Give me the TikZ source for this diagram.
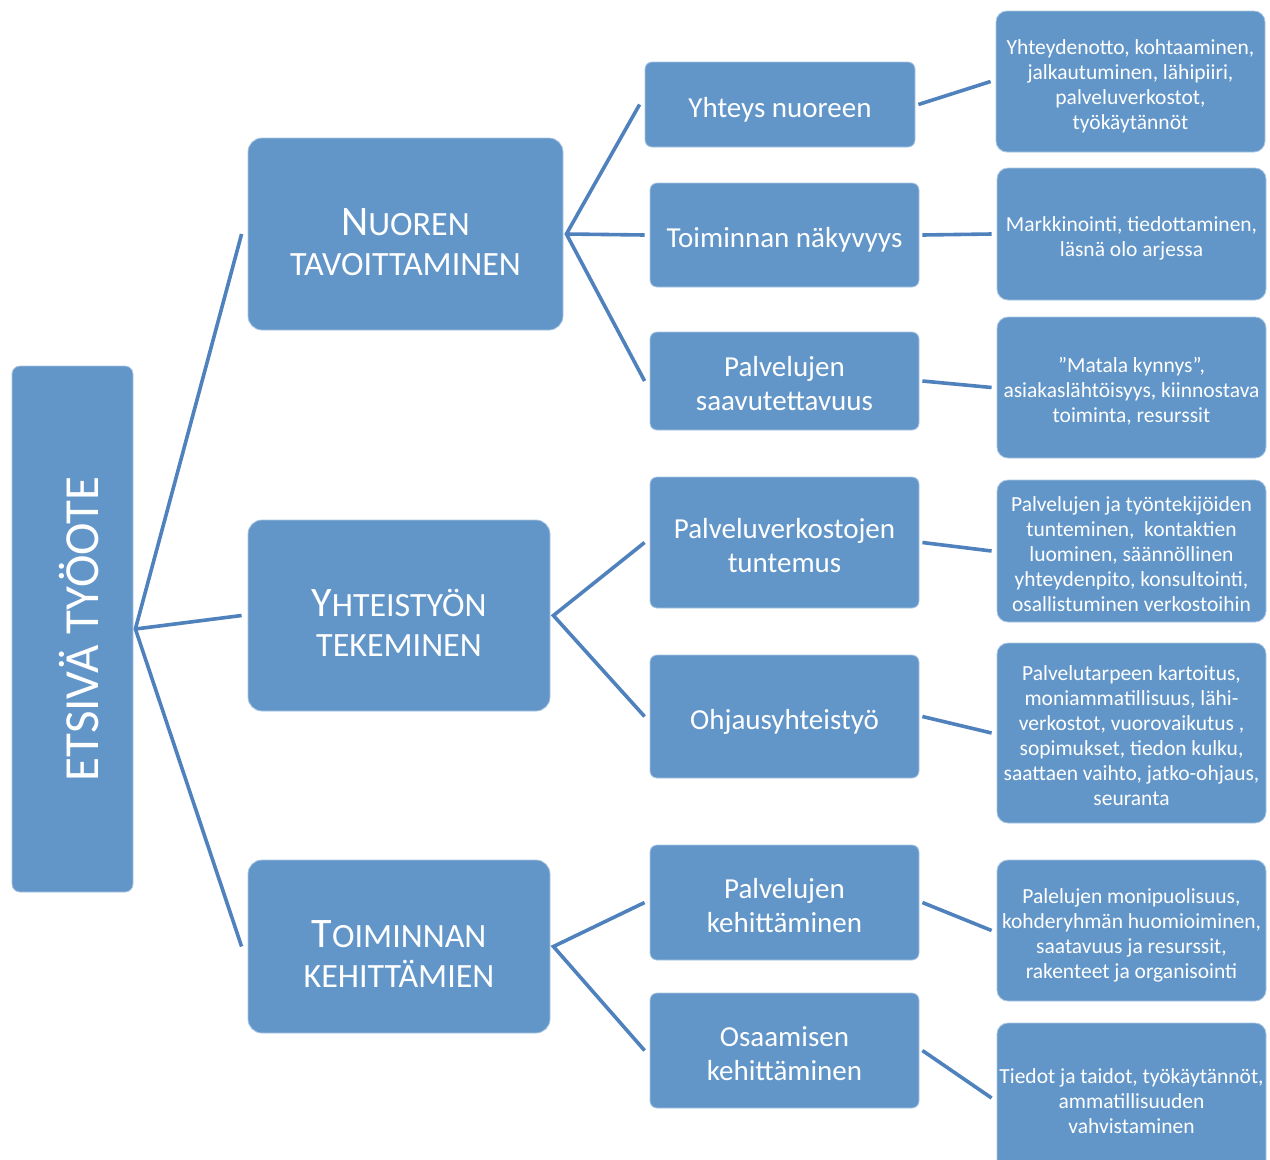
\documentclass[tikz,border=0pt]{standalone}
\usepackage{fontspec}
\usepackage{graphicx}
\setmainfont{Carlito}
\definecolor{boxblue}{RGB}{98,150,201}
\definecolor{lineblue}{RGB}{79,129,189}
\newcommand{\fsz}[2]{\fontsize{#1}{#2}\selectfont}
\newcommand{\scap}[2]{{\fsz{42}{40}#1}{\fsz{34}{40}#2}}
\newcommand{\ctext}[2]{\raisebox{-#1}[\height][\depth]{\begin{tabular}{@{}c@{}}#2\end{tabular}}}
\newcommand{\tone}[1]{\ctext{13pt}{#1}}
\newcommand{\ttwo}[1]{\ctext{6pt}{#1}}
\newcommand{\tthree}[1]{\ctext{5pt}{#1}}
\begin{document}
\begin{tikzpicture}[x=1pt,y=-1pt,
  box/.style={rectangle, fill=boxblue, draw=boxblue!55!white, line width=0.8pt,
    text=white, inner sep=0pt},
  rootbox/.style={box, rounded corners=8pt, minimum width=121pt, minimum height=526pt},
  lonebox/.style={box, rounded corners=14pt, font=\fsz{34}{40}},
  ltwobox/.style={box, rounded corners=7pt, minimum width=269pt, font=\fsz{29}{34}},
  lthreebox/.style={box, rounded corners=11pt, minimum width=269pt, font=\fsz{21.5}{25}},
  conn/.style={draw=lineblue, line width=3.6pt}
]
\useasboundingbox (0,0) rectangle (1270,1160);

% root
\node[rootbox] (root) at (72.5,629) {\rotatebox{90}{\raisebox{0pt}[51.5pt][0pt]{\fsz{49}{52}ETSIVÄ TYÖOTE}}};

% level 1
\node[lonebox, minimum width=315pt, minimum height=192pt] (nuo) at (405.5,234) {\tone{\scap{N}{UOREN}\\\scap{}{TAVOITTAMINEN}}};
\node[lonebox, minimum width=302pt, minimum height=191pt] (yht) at (399,615.5) {\tone{\scap{Y}{HTEISTYÖN}\\\scap{}{TEKEMINEN}}};
\node[lonebox, minimum width=302pt, minimum height=173pt] (toi) at (399,946.5) {\tone{\scap{T}{OIMINNAN}\\\scap{}{KEHITTÄMIEN}}};

% level 2
\node[ltwobox, minimum width=270pt, minimum height=85pt] (a1) at (780,104.5) {\ttwo{Yhteys nuoreen}};
\node[ltwobox, minimum height=104pt] (a2) at (784.5,235) {\ttwo{Toiminnan näkyvyys}};
\node[ltwobox, minimum height=98pt] (a3) at (784.5,381) {\ttwo{Palvelujen\\saavutettavuus}};
\node[ltwobox, minimum height=131pt] (b1) at (784.5,542.5) {\ttwo{Palveluverkostojen\\tuntemus}};
\node[ltwobox, minimum height=123pt] (b2) at (784.5,716.5) {\ttwo{Ohjausyhteistyö}};
\node[ltwobox, minimum height=115pt] (c1) at (784.5,902.5) {\ttwo{Palvelujen\\kehittäminen}};
\node[ltwobox, minimum height=115pt] (c2) at (784.5,1050.5) {\ttwo{Osaamisen\\kehittäminen}};

% level 3
\node[lthreebox, minimum height=141pt] (a1d) at (1130.5,81.5) {\tthree{Yhteydenotto, kohtaaminen,\\jalkautuminen, lähipiiri,\\palveluverkostot,\\työkäytännöt}};
\node[lthreebox, minimum height=132pt] (a2d) at (1131.5,234) {\tthree{Markkinointi, tiedottaminen,\\läsnä olo arjessa}};
\node[lthreebox, minimum height=141pt] (a3d) at (1131.5,387.5) {\tthree{”Matala kynnys”,\\asiakaslähtöisyys, kiinnostava\\toiminta, resurssit}};
\node[lthreebox, minimum height=142pt] (b1d) at (1131.5,551) {\tthree{Palvelujen ja työntekijöiden\\tunteminen,\ \ kontaktien\\luominen, säännöllinen\\yhteydenpito, konsultointi,\\osallistuminen verkostoihin}};
\node[lthreebox, minimum height=180pt] (b2d) at (1131.5,733) {\tthree{Palvelutarpeen kartoitus,\\moniammatillisuus, lähi-\\verkostot, vuorovaikutus ,\\sopimukset, tiedon kulku,\\saattaen vaihto, jatko-ohjaus,\\seuranta}};
\node[lthreebox, minimum height=141pt] (c1d) at (1131.5,930.5) {\tthree{Palelujen monipuolisuus,\\kohderyhmän huomioiminen,\\saatavuus ja resurssit,\\rakenteet ja organisointi}};
\node[lthreebox, minimum height=150pt] (c2d) at (1131.5,1098) {\tthree{Tiedot ja taidot, työkäytännöt,\\ammatillisuuden\\vahvistaminen}};

% connectors root -> level 1
\coordinate (rj) at ([xshift=2pt]root.east);
\draw[conn] ([xshift=-6pt]nuo.west) -- (rj) -- ([xshift=-6pt]toi.west);
\draw[conn] (rj) -- ([xshift=-6pt]yht.west);

% level 1 -> level 2
\coordinate (nj) at ([xshift=3pt]nuo.east);
\draw[conn] ([xshift=-5pt]a1.west) -- (nj) -- ([xshift=-5pt]a3.west);
\draw[conn] (nj) -- ([xshift=-5pt]a2.west);
\coordinate (yj) at ([xshift=3pt]yht.east);
\draw[conn] ([xshift=-5pt]b1.west) -- (yj) -- ([xshift=-5pt]b2.west);
\coordinate (tj) at ([xshift=3pt]toi.east);
\draw[conn] ([xshift=-5pt]c1.west) -- (tj) -- ([xshift=-5pt]c2.west);

% level 2 -> level 3
\draw[conn] ([xshift=3pt]a1.east) -- ([xshift=-5pt]a1d.west);
\draw[conn] ([xshift=3pt]a2.east) -- ([xshift=-5pt]a2d.west);
\draw[conn] ([xshift=3pt]a3.east) -- ([xshift=-5pt]a3d.west);
\draw[conn] ([xshift=3pt]b1.east) -- ([xshift=-5pt]b1d.west);
\draw[conn] ([xshift=3pt]b2.east) -- ([xshift=-5pt]b2d.west);
\draw[conn] ([xshift=3pt]c1.east) -- ([xshift=-5pt]c1d.west);
\draw[conn] ([xshift=3pt]c2.east) -- ([xshift=-5pt]c2d.west);
\end{tikzpicture}
\end{document}
